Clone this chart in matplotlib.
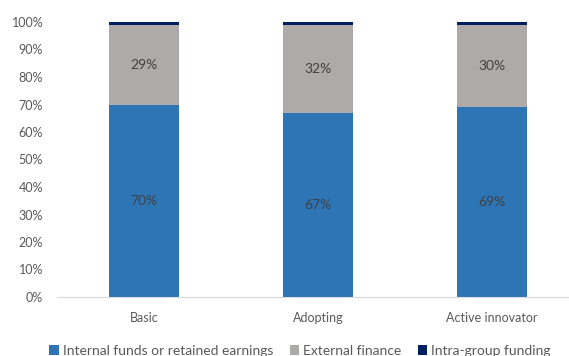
import numpy as np
import matplotlib.pyplot as plt
from matplotlib.ticker import PercentFormatter

categories = ["Basic", "Adopting", "Active innovator"]
internal = [70, 67, 69]
external = [29, 32, 30]
intra_group = [1, 1, 1]

series_names = ["Internal funds or retained earnings", "External finance", "Intra-group funding"]
colors = ["#2E75B6", "#AEAAAA", "#002060"]
text_gray = "#595959"

plt.rcParams["font.family"] = ["Lato", "DejaVu Sans"]

fig = plt.figure(figsize=(5.69, 3.56), dpi=100)
ax = fig.add_axes([57 / 569, 59 / 356, 522 / 569, 275 / 356])

x = np.arange(len(categories))
width = 0.40
bottom = np.zeros(len(categories))
bars = []
for vals, name, col in zip([internal, external, intra_group], series_names, colors):
    b = ax.bar(x, vals, width, bottom=bottom, color=col, label=name)
    bars.append(b)
    bottom += np.array(vals)

# value labels on the two main segments
for b, vals in zip(bars[:2], [internal, external]):
    for rect, v in zip(b, vals):
        ax.text(rect.get_x() + rect.get_width() / 2, rect.get_y() + rect.get_height() / 2,
                f"{v}%", ha="center", va="center", fontsize=10, color="#404040")

ax.set_xlim(-0.5, 2.5)
ax.set_ylim(0, 100)
ax.set_yticks(np.arange(0, 101, 10))
ax.yaxis.set_major_formatter(PercentFormatter(decimals=0))
ax.set_xticks(x)
ax.set_xticklabels(categories)
ax.tick_params(axis="both", length=0, labelsize=9, colors=text_gray)
ax.tick_params(axis="x", pad=11)
ax.tick_params(axis="y", pad=10)

for side in ["top", "right", "left"]:
    ax.spines[side].set_visible(False)
ax.spines["bottom"].set_color("#D9D9D9")

fig.legend(handles=bars, labels=series_names, loc="center", bbox_to_anchor=(0.527, 5 / 356),
           ncol=3, frameon=False, fontsize=10, handlelength=0.7, handleheight=0.7,
           handletextpad=0.25, columnspacing=1.2, labelcolor=text_gray)

fig.savefig("out.png", dpi=100)
